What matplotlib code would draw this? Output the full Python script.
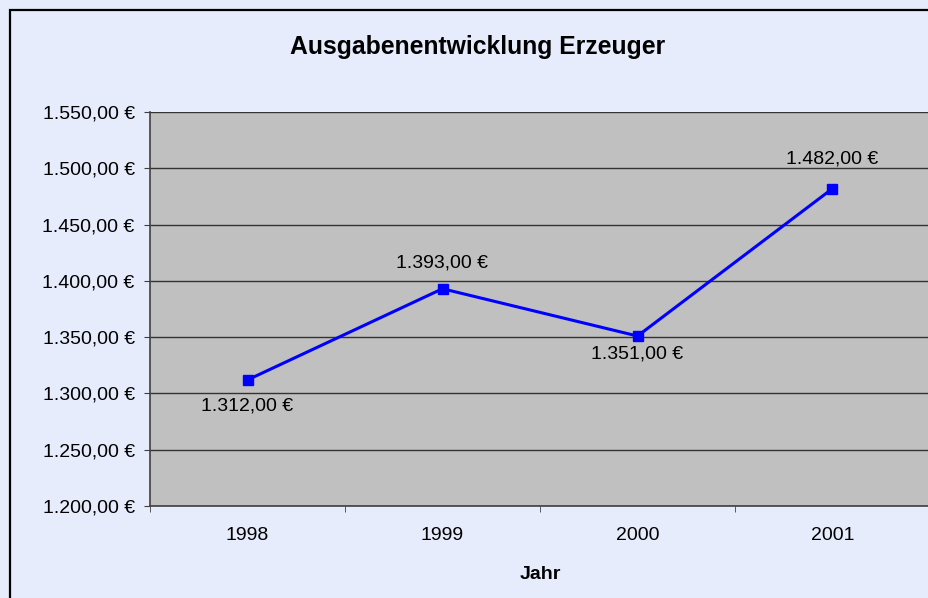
import matplotlib.pyplot as plt
from matplotlib.patches import Rectangle

years = ["1998", "1999", "2000", "2001"]
ausgaben = [1312, 1393, 1351, 1482]
y_ticks = [1200, 1250, 1300, 1350, 1400, 1450, 1500, 1550]

# vertical offset (pixels) of each data label from its point
label_offsets = [-26, 26, -18, 30]


def euro(v):
    s = f"{v:,.2f}".replace(",", "X").replace(".", ",").replace("X", ".")
    return s + " €"


plt.rcParams["font.family"] = ["Liberation Sans", "DejaVu Sans"]

fig = plt.figure(figsize=(9.29, 5.98), dpi=100)
fig.patch.set_facecolor("#E6ECFB")

# outer frame (right/bottom edges fall outside the image)
fig.patches.append(Rectangle((10 / 929, -0.05), 1.1, 1 - 10 / 598 + 0.05,
                             transform=fig.transFigure, fill=False,
                             edgecolor="black", linewidth=1.6))

ax = fig.add_axes([150 / 929, 1 - 506 / 598, 780 / 929, 394 / 598])
ax.set_facecolor("#C0C0C0")

x = list(range(len(years)))
ax.plot(x, ausgaben, color="#0000FF", linewidth=2.2, marker="s",
        markersize=6.5, zorder=3)

for xi, v, off in zip(x, ausgaben, label_offsets):
    ax.annotate(euro(v), (xi, v), xytext=(0, off), textcoords="offset pixels",
                ha="center", va="center", fontsize=14)

ax.set_xlim(-0.5, 3.5)
ax.set_ylim(1200, 1550)
ax.set_yticks(y_ticks)
ax.set_yticklabels([euro(v) for v in y_ticks], fontsize=14)
ax.set_xticks(x)
ax.set_xticklabels(years, fontsize=14)
ax.set_xticks([-0.5, 0.5, 1.5, 2.5, 3.5], minor=True)
ax.tick_params(axis="x", which="major", length=0, pad=15)
ax.tick_params(axis="x", which="minor", length=4, color="#404040")
ax.tick_params(axis="y", length=4, color="#404040", pad=7)

ax.grid(axis="y", color="#333333", linewidth=1.0)
ax.set_axisbelow(True)
for side in ["top", "right"]:
    ax.spines[side].set_visible(False)
for side in ["left", "bottom"]:
    ax.spines[side].set_color("#404040")
    ax.spines[side].set_linewidth(1.2)

ax.set_xlabel("Jahr", fontsize=14, fontweight="bold", labelpad=16)
fig.text(478 / 929, 1 - 47 / 598, "Ausgabenentwicklung Erzeuger",
         ha="center", va="center", fontsize=17.8, fontweight="bold")

fig.savefig("out.png", dpi=100, facecolor=fig.get_facecolor())
